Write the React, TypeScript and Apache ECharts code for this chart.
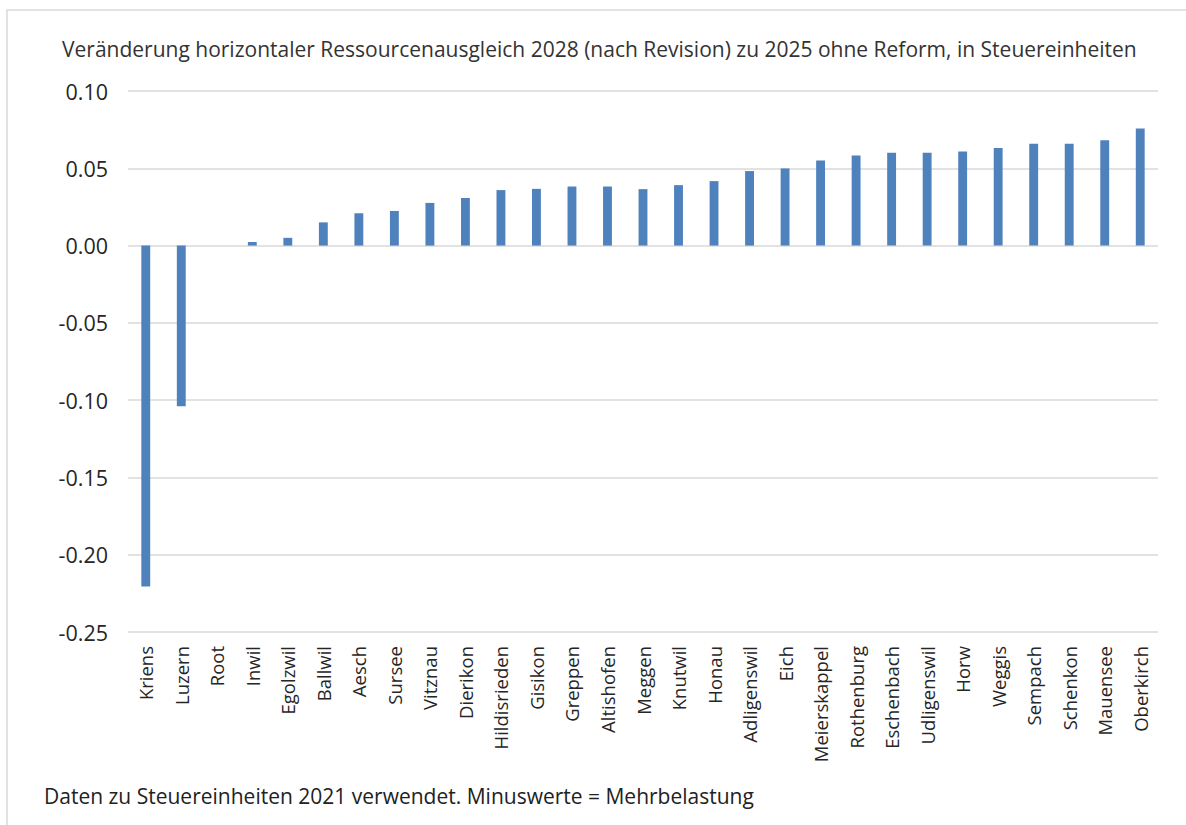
import React, { useEffect, useRef } from "react";
import * as echarts from "echarts";

const categories = [
  "Kriens", "Luzern", "Root", "Inwil", "Egolzwil", "Ballwil", "Aesch", "Sursee", "Vitznau",
  "Dierikon", "Hildisrieden", "Gisikon", "Greppen", "Altishofen", "Meggen", "Knutwil", "Honau",
  "Adligenswil", "Eich", "Meierskappel", "Rothenburg", "Eschenbach", "Udligenswil", "Horw",
  "Weggis", "Sempach", "Schenkon", "Mauensee", "Oberkirch",
];

const values = [
  -0.2205, -0.104, 0, 0.0023, 0.005, 0.015, 0.0209, 0.0224, 0.0276,
  0.0308, 0.0359, 0.0367, 0.0382, 0.0382, 0.0365, 0.0391, 0.0417,
  0.0482, 0.0499, 0.055, 0.0582, 0.06, 0.06, 0.0608,
  0.0632, 0.0658, 0.0658, 0.0682, 0.0758,
];

const titleText =
  "Veränderung horizontaler Ressourcenausgleich 2028 (nach Revision) zu 2025 ohne Reform, in Steuereinheiten";
const noteText = "Daten zu Steuereinheiten 2021 verwendet. Minuswerte = Mehrbelastung";

const FONT = "'Open Sans', sans-serif";

export default function App() {
  const ref = useRef<HTMLDivElement>(null);
  useEffect(() => {
    if (!ref.current) return;
    const chart = echarts.init(ref.current, undefined, { renderer: "svg" });
    chart.setOption({
      animation: false,
      backgroundColor: "#ffffff",
      textStyle: { fontFamily: FONT },
      graphic: [
        {
          type: "rect",
          shape: { x: 7, y: 10, width: 1300, height: 900 },
          style: { fill: "none", stroke: "#d9d9d9", lineWidth: 1.5 },
          silent: true,
        },
        {
          type: "text",
          x: 62,
          y: 49,
          style: {
            text: titleText,
            font: `21px ${FONT}`,
            fill: "#333333",
            verticalAlign: "middle",
          },
        },
        {
          type: "text",
          x: 44,
          y: 796,
          style: {
            text: noteText,
            font: `21px ${FONT}`,
            fill: "#222222",
            verticalAlign: "middle",
          },
        },
      ],
      grid: { left: 128, right: 28, top: 91, bottom: 193, containLabel: false },
      xAxis: {
        type: "category",
        data: categories,
        position: "bottom",
        axisLine: { show: false },
        axisTick: { show: false },
        axisLabel: {
          rotate: 90,
          interval: 0,
          margin: 14,
          fontSize: 18.5,
          color: "#262626",
          fontFamily: FONT,
        },
      },
      yAxis: {
        type: "value",
        min: -0.25,
        max: 0.1,
        interval: 0.05,
        axisLine: { show: false },
        axisTick: { show: false },
        splitLine: { lineStyle: { color: "#d9d9d9", width: 1.5 } },
        axisLabel: {
          margin: 20,
          fontSize: 21.5,
          color: "#262626",
          fontFamily: FONT,
          formatter: (v: number) => v.toFixed(2),
        },
      },
      series: [
        {
          type: "bar",
          data: values,
          barWidth: "25%",
          itemStyle: { color: "#4f81bd", borderWidth: 0 },
        },
      ],
    });
    return () => chart.dispose();
  }, []);
  return (
    <div
      ref={ref}
      style={{ position: "absolute", left: 0, top: 0, width: 1186, height: 825 }}
    />
  );
}
